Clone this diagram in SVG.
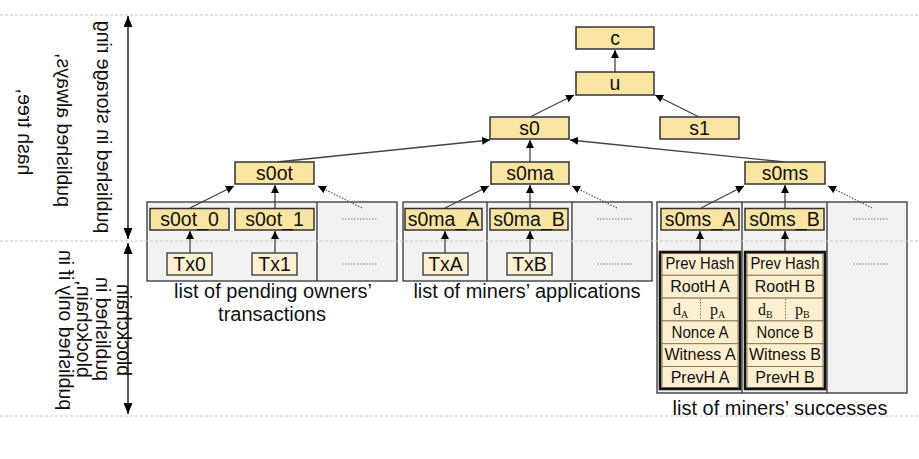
<svg xmlns="http://www.w3.org/2000/svg" width="919" height="459" viewBox="0 0 919 459">
<defs>
<marker id="ah" markerUnits="userSpaceOnUse" markerWidth="9" markerHeight="9" refX="8" refY="4" orient="auto"><path d="M0,0 L8,4 L0,8 Z" fill="#000"/></marker>
<marker id="big" markerUnits="userSpaceOnUse" markerWidth="12" markerHeight="10" refX="11" refY="4.5" orient="auto-start-reverse"><path d="M0,0 L11,4.5 L0,9 Z" fill="#000"/></marker>
<style>
text{font-family:"Liberation Sans",Arial,sans-serif;fill:#111}
.n{fill:#FAE4A2;stroke:#333;stroke-width:1.5}
.t{fill:#FEF1D2;stroke:#333;stroke-width:1.3}
.grp{fill:#F2F2F2;stroke:#333;stroke-width:1.3}
.lbl{font-size:19.5px;text-anchor:middle}
.cap{font-size:20px;text-anchor:middle}
.side{font-size:19.5px;text-anchor:middle}
.bt{font-size:16px;text-anchor:middle}
.row{fill:#FDEFCF;stroke:#8a7a5a;stroke-width:1}
.blk{fill:none;stroke:#111;stroke-width:2.5}
.c{stroke:#444;stroke-width:1.3;fill:none;marker-end:url(#ah)}
.d{stroke:#555;stroke-width:1.2;stroke-dasharray:1.5,1.5;fill:none;marker-end:url(#ah)}
.dash{stroke:#c8c8c8;stroke-width:1;stroke-dasharray:3,2}
.dots{stroke:#777;stroke-width:1;stroke-dasharray:1.5,1.5}
.sv{font-family:"Liberation Serif","Times New Roman",serif;font-size:16px}
</style>
</defs>

<line class="dash" x1="0" y1="15" x2="919" y2="15"/>
<line class="dash" x1="0" y1="416" x2="919" y2="416"/>

<g id="side-text">
<text class="side" transform="matrix(0,-1,-1,0,97,127)">published in storage ring</text>
<text class="side" transform="matrix(0,-1,-1,0,57,130)">published always,</text>
<text class="side" transform="matrix(0,-1,-1,0,18,132)">hash tree,</text>
<text class="side" transform="matrix(0,-1,-1,0,117,330)">blockchain</text>
<text class="side" transform="matrix(0,-1,-1,0,96,329)">published in</text>
<text class="side" transform="matrix(0,-1,-1,0,77,329)">blockchain,</text>
<text class="side" transform="matrix(0,-1,-1,0,59,330)">published only if in</text>
</g>

<g id="side-arrows">
<line x1="128" y1="16" x2="128" y2="239" stroke="#000" stroke-width="1.3" marker-start="url(#big)" marker-end="url(#big)"/>
<line x1="128" y1="243" x2="128" y2="414" stroke="#000" stroke-width="1.3" marker-start="url(#big)" marker-end="url(#big)"/>
</g>

<g id="group-owners">
<rect class="grp" x="147" y="202" width="250" height="79"/>
<line x1="317" y1="202" x2="317" y2="281" stroke="#333" stroke-width="1.3"/>
<line class="dots" x1="342" y1="219" x2="377" y2="219"/>
<line class="dots" x1="342" y1="264" x2="377" y2="264"/>
</g>
<g id="group-applications">
<rect class="grp" x="403" y="202" width="249" height="79"/>
<line x1="487" y1="202" x2="487" y2="281" stroke="#333" stroke-width="1.3"/>
<line x1="572" y1="202" x2="572" y2="281" stroke="#333" stroke-width="1.3"/>
<line class="dots" x1="597" y1="219" x2="632" y2="219"/>
<line class="dots" x1="597" y1="264" x2="632" y2="264"/>
</g>
<g id="group-successes">
<rect class="grp" x="657" y="202" width="250" height="191"/>
<line x1="742" y1="202" x2="742" y2="393" stroke="#333" stroke-width="1.3"/>
<line x1="827" y1="202" x2="827" y2="393" stroke="#333" stroke-width="1.3"/>
<line class="dots" x1="853" y1="219" x2="888" y2="219"/>
<line class="dots" x1="853" y1="264" x2="888" y2="264"/>
</g>

<line class="dash" x1="0" y1="241" x2="919" y2="241"/>

<g id="connectors">
<line class="c" x1="615" y1="72" x2="615" y2="50"/>
<line class="c" x1="530" y1="117" x2="574" y2="95"/>
<line class="c" x1="699" y1="117" x2="655" y2="95"/>
<line class="c" x1="277" y1="162" x2="490" y2="140"/>
<line class="c" x1="530" y1="162" x2="530" y2="140"/>
<line class="c" x1="785" y1="162" x2="570" y2="140"/>
<line class="c" x1="190" y1="208" x2="234" y2="186"/>
<line class="c" x1="275" y1="208" x2="275" y2="185"/>
<line class="d" x1="362" y1="208" x2="318" y2="186"/>
<line class="c" x1="445" y1="208" x2="489" y2="186"/>
<line class="c" x1="530" y1="208" x2="530" y2="185"/>
<line class="d" x1="617" y1="208" x2="572" y2="186"/>
<line class="c" x1="701" y1="208" x2="744" y2="186"/>
<line class="c" x1="785" y1="208" x2="785" y2="185"/>
<line class="d" x1="872" y1="208" x2="828" y2="186"/>
<line class="c" x1="190" y1="253" x2="190" y2="231"/>
<line class="c" x1="275" y1="253" x2="275" y2="231"/>
<line class="c" x1="445" y1="253" x2="445" y2="231"/>
<line class="c" x1="530" y1="253" x2="530" y2="231"/>
<line class="c" x1="700" y1="252" x2="700" y2="231"/>
<line class="c" x1="785" y1="252" x2="785" y2="231"/>
</g>

<g id="c"><rect class="n" x="576" y="27" width="78" height="22"/><text class="lbl" x="615" y="45">c</text></g>
<g id="u"><rect class="n" x="576" y="72" width="78" height="23"/><text class="lbl" x="615" y="90">u</text></g>
<g id="s0"><rect class="n" x="490" y="117" width="79" height="22"/><text class="lbl" x="529.5" y="135">s0</text></g>
<g id="s1"><rect class="n" x="660" y="117" width="79" height="22"/><text class="lbl" x="699.5" y="135">s1</text></g>
<g id="s0ot"><rect class="n" x="235" y="162" width="79" height="22"/><text class="lbl" x="274.5" y="180">s0ot</text></g>
<g id="s0ma"><rect class="n" x="491" y="162" width="78" height="22"/><text class="lbl" x="530" y="180">s0ma</text></g>
<g id="s0ms"><rect class="n" x="745" y="162" width="80" height="22"/><text class="lbl" x="785" y="180">s0ms</text></g>

<g id="s0ot_0"><rect class="n" x="150" y="208.5" width="79" height="21.5"/><text class="lbl" x="189.5" y="226">s0ot_0</text></g>
<g id="s0ot_1"><rect class="n" x="235" y="208.5" width="79" height="21.5"/><text class="lbl" x="274.5" y="226">s0ot_1</text></g>
<g id="s0ma_A"><rect class="n" x="405" y="208.5" width="77" height="21.5"/><text class="lbl" x="443.5" y="226">s0ma_A</text></g>
<g id="s0ma_B"><rect class="n" x="490" y="208.5" width="78" height="21.5"/><text class="lbl" x="529" y="226">s0ma_B</text></g>
<g id="s0ms_A"><rect class="n" x="661" y="208.5" width="78" height="21.5"/><text class="lbl" x="700" y="226">s0ms_A</text></g>
<g id="s0ms_B"><rect class="n" x="745" y="208.5" width="79" height="21.5"/><text class="lbl" x="784.5" y="226">s0ms_B</text></g>

<g id="Tx0"><rect class="t" x="167" y="253" width="45" height="22"/><text class="lbl" x="189.5" y="271">Tx0</text></g>
<g id="Tx1"><rect class="t" x="252" y="253" width="45" height="22"/><text class="lbl" x="274.5" y="271">Tx1</text></g>
<g id="TxA"><rect class="t" x="423" y="253" width="45" height="22"/><text class="lbl" x="445.5" y="271">TxA</text></g>
<g id="TxB"><rect class="t" x="507" y="253" width="45" height="22"/><text class="lbl" x="529.5" y="271">TxB</text></g>

<g id="blockA">
<rect class="row" x="662" y="253.5" width="76" height="21.8"/>
<rect class="row" x="662" y="275.3" width="76" height="22.8"/>
<rect class="row" x="662" y="298.1" width="76" height="22.8"/>
<rect class="row" x="662" y="320.9" width="76" height="22.8"/>
<rect class="row" x="662" y="343.7" width="76" height="22.8"/>
<rect class="row" x="662" y="366.5" width="76" height="21"/>
<rect class="blk" x="660" y="252" width="80" height="137"/>
<line class="dots" x1="700.5" y1="299" x2="700.5" y2="320"/>
<text class="bt" x="700" y="269.2" textLength="69" lengthAdjust="spacingAndGlyphs">Prev Hash</text>
<text class="bt" x="700" y="292">RootH A</text>
<text class="sv" x="673" y="314.5">d<tspan font-size="10" dy="3">A</tspan></text>
<text class="sv" x="710" y="314.5">p<tspan font-size="10" dy="3">A</tspan></text>
<text class="bt" x="700" y="337.6" textLength="57" lengthAdjust="spacingAndGlyphs">Nonce A</text>
<text class="bt" x="700" y="360.4">Witness A</text>
<text class="bt" x="700" y="383.2">PrevH A</text>
</g>

<g id="blockB">
<rect class="row" x="747" y="253.5" width="76" height="21.8"/>
<rect class="row" x="747" y="275.3" width="76" height="22.8"/>
<rect class="row" x="747" y="298.1" width="76" height="22.8"/>
<rect class="row" x="747" y="320.9" width="76" height="22.8"/>
<rect class="row" x="747" y="343.7" width="76" height="22.8"/>
<rect class="row" x="747" y="366.5" width="76" height="21"/>
<rect class="blk" x="745" y="252" width="80" height="137"/>
<line class="dots" x1="785.5" y1="299" x2="785.5" y2="320"/>
<text class="bt" x="785" y="269.2" textLength="69" lengthAdjust="spacingAndGlyphs">Prev Hash</text>
<text class="bt" x="785" y="292">RootH B</text>
<text class="sv" x="758" y="314.5">d<tspan font-size="10" dy="3">B</tspan></text>
<text class="sv" x="795" y="314.5">p<tspan font-size="10" dy="3">B</tspan></text>
<text class="bt" x="785" y="337.6" textLength="57" lengthAdjust="spacingAndGlyphs">Nonce B</text>
<text class="bt" x="785" y="360.4">Witness B</text>
<text class="bt" x="785" y="383.2">PrevH B</text>
</g>

<g id="captions">
<text class="cap" x="273" y="298">list of pending owners’</text>
<text class="cap" x="272" y="321">transactions</text>
<text class="cap" x="527" y="298">list of miners’ applications</text>
<text class="cap" x="780" y="415">list of miners’ successes</text>
</g>
</svg>
